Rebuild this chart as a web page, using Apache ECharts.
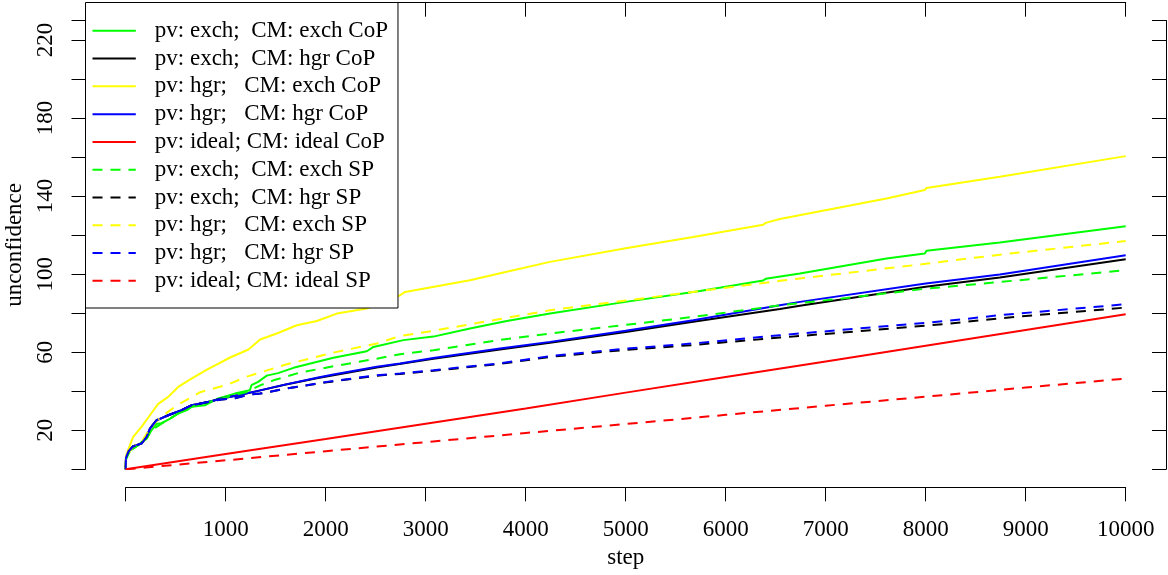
<!DOCTYPE html>
<html>
<head>
<meta charset="utf-8">
<script src="https://cdn.jsdelivr.net/npm/echarts@6/dist/echarts.min.js"></script>
<style>
  html, body { margin: 0; padding: 0; background: #ffffff; }
  #chart { width: 1168px; height: 575px; }
</style>
</head>
<body>
<div id="chart"></div>
<script>
// Unconfidence over simulation steps: [step, unconfidence] pairs per run.
const exchExchCoP = [[0,0],[3,5],[45,9.7],[125,12.3],[178,14.9],[208,15.7],[258,20],[312,23.4],[358,23.6],[445,26],[525,28.6],[612,30.3],[658,32],[791,32.8],[925,36.3],[1091,38.8],[1241,40.5],[1258,43.1],[1324,44.8],[1411,48],[1524,49.3],[1678,52],[2077,57.2],[2411,60.5],[2477,62.7],[2777,66.2],[3077,68],[3443,72.2],[3810,76],[4243,79.8],[5000,85.8],[5743,91.4],[6375,96.8],[6400,97.6],[6742,100.3],[7608,108],[7624,109],[7991,110.6],[8008,112],[8741,116.2],[10000,124.5]];
const exchHgrCoP = [[0,0],[3,6],[25,8.9],[75,11.8],[158,13.2],[208,16.6],[242,20.9],[308,25.1],[425,27.7],[558,30.3],[658,32.8],[825,34.5],[958,36.3],[1124,37.9],[1324,40.2],[1591,43.3],[1924,46.8],[2511,52.2],[3077,56.6],[3743,61.4],[4243,64.8],[5000,70.4],[5675,75.6],[6542,82.2],[6742,83.8],[8000,93.6],[8741,98.3],[10000,107.7]];
const hgrExchCoP = [[0,0],[3,7],[62,14.9],[75,16.6],[158,21.7],[242,27.7],[325,33.5],[425,37.1],[525,42.2],[658,46.5],[808,51],[1044,57.3],[1228,61.4],[1344,66.5],[1511,69.6],[1711,73.8],[1911,76],[2111,79.8],[2411,82.4],[2744,89.2],[2794,90.9],[3443,96.9],[3810,101.2],[4243,106.3],[5000,113.3],[5675,119.1],[6375,125.3],[6400,126.3],[6542,128.3],[7608,138.8],[7624,139.8],[7991,143.1],[8008,144.2],[8741,149.9],[10000,160.5]];
const hgrHgrCoP = [[0,0],[3,6],[25,8.9],[75,11.8],[158,13.2],[208,16.6],[242,20.9],[308,25.1],[425,27.7],[558,30.3],[658,32.8],[825,34.5],[958,36.3],[1124,37.9],[1324,40.2],[1591,43.4],[1924,47],[2077,48.6],[2511,52.5],[2744,54.2],[3077,57],[3743,61.9],[4243,65.3],[5000,71],[5675,76.4],[6542,84.1],[6742,85.8],[8000,95.2],[8741,99.8],[10000,109.7]];
const idealIdealCoP = [[0,0],[1000,7.8],[2000,15.5],[3000,23.3],[4000,31.2],[5000,39.3],[6000,47.3],[7000,55.3],[8000,63.3],[9000,71.4],[10000,79.5]];
const exchExchSP = [[0,0],[3,5],[45,9.7],[125,12.3],[208,15.7],[258,20],[358,23.4],[525,28.6],[658,32],[925,35.8],[1091,38],[1211,39.6],[1344,43],[1477,45.6],[1744,49.6],[2077,52.8],[2511,56.7],[2744,59],[3077,61],[3743,66.3],[4243,69.6],[5000,74],[5675,78.1],[6542,84],[7208,87.8],[8008,92.6],[8741,96],[10000,102]];
const exchHgrSP = [[0,0],[3,6],[25,8.9],[75,11.8],[158,13.2],[208,16.6],[242,20.9],[308,25.1],[425,27.7],[558,30.3],[658,32.8],[825,34.5],[958,35.8],[1078,36.3],[1244,38.3],[1344,38.8],[1611,41.4],[2011,44.6],[2511,48],[2744,48.9],[3077,50.5],[3743,54],[4243,57.6],[5000,61.2],[5675,63.7],[6542,67.5],[6742,68.3],[8208,74.5],[8741,77.4],[10000,82.9]];
const hgrExchSP = [[0,0],[3,6],[75,11.8],[158,14],[242,21],[345,26.5],[512,32.8],[745,39.5],[1024,43.5],[1211,47.5],[1611,53.8],[2077,59.8],[2511,64.5],[2744,68.3],[3077,71],[3743,77],[4243,81.5],[5000,86.5],[5675,90.9],[6542,96.6],[6742,97.8],[8000,105.3],[8741,110],[10000,117]];
const hgrHgrSP = [[0,0],[3,6],[25,8.9],[75,11.8],[158,13.2],[208,16.6],[242,20.9],[308,25.1],[425,27.7],[558,30.3],[658,32.8],[825,34.5],[958,35.8],[1078,36.3],[1244,38.3],[1344,38.8],[1611,41.4],[2011,44.8],[2511,48.2],[2744,49.1],[3077,50.8],[3743,54.3],[4243,58],[5000,61.8],[5675,64.5],[6542,68.7],[6742,69.6],[8208,76],[8741,79],[10000,84.6]];
const idealIdealSP = [[0,0],[1000,4.6],[2000,9.3],[3000,13.9],[4000,18.6],[5000,23.2],[6000,27.9],[7000,32.6],[8000,37.2],[9000,41.9],[10000,46.5]];

const seriesNames = [
  'pv: exch;  CM: exch CoP',
  'pv: exch;  CM: hgr CoP',
  'pv: hgr;   CM: exch CoP',
  'pv: hgr;   CM: hgr CoP',
  'pv: ideal; CM: ideal CoP',
  'pv: exch;  CM: exch SP',
  'pv: exch;  CM: hgr SP',
  'pv: hgr;   CM: exch SP',
  'pv: hgr;   CM: hgr SP',
  'pv: ideal; CM: ideal SP'
];
const seriesData = [exchExchCoP, exchHgrCoP, hgrExchCoP, hgrHgrCoP, idealIdealCoP,
                    exchExchSP, exchHgrSP, hgrExchSP, hgrHgrSP, idealIdealSP];
const seriesColors = ['#00ff00', '#000000', '#ffff00', '#0000ff', '#ff0000',
                      '#00ff00', '#000000', '#ffff00', '#0000ff', '#ff0000'];
const seriesDashed = [false, false, false, false, false, true, true, true, true, true];

// Axis ticks and which of them carry a label
const xTickLabels = [1000, 2000, 3000, 4000, 5000, 6000, 7000, 8000, 9000, 10000];
const yTickLabels = [20, 60, 100, 140, 180, 220];

const FONT = 'Liberation Serif';
const FONT_SIZE = 23;
const black = '#000000';

const chart = echarts.init(document.getElementById('chart'), null, { renderer: 'canvas' });

const axisLineStyle = { show: true, onZero: false, lineStyle: { color: black, width: 1 } };

const option = {
  animation: false,
  backgroundColor: '#ffffff',
  grid: { left: 125.7, right: 42.3, top: 20.5, bottom: 105.7, outerBoundsMode: 'none', containLabel: false },
  xAxis: [
    {
      type: 'value', position: 'bottom', offset: 18,
      min: 0, max: 10000, interval: 1000,
      name: 'step', nameLocation: 'middle', nameGap: 53,
      nameTextStyle: { fontFamily: FONT, fontSize: FONT_SIZE, color: black },
      axisLine: axisLineStyle,
      axisTick: { show: true, inside: false, length: 14, lineStyle: { color: black, width: 1 } },
      axisLabel: {
        show: true, margin: 31, fontFamily: FONT, fontSize: FONT_SIZE, color: black,
        formatter: v => (xTickLabels.indexOf(v) >= 0 ? String(v) : '')
      },
      splitLine: { show: false }
    },
    {
      type: 'value', position: 'top', offset: 17.8,
      min: 0, max: 10000, interval: 1000,
      axisLine: axisLineStyle,
      axisTick: { show: true, inside: true, length: 14, lineStyle: { color: black, width: 1 } },
      axisLabel: { show: false },
      splitLine: { show: false }
    }
  ],
  yAxis: [
    {
      type: 'value', position: 'left', offset: 40.2,
      min: 0, max: 230, interval: 20,
      name: 'unconfidence', nameLocation: 'middle', nameRotate: 90, nameGap: 53.5,
      nameTextStyle: { fontFamily: FONT, fontSize: FONT_SIZE, color: black },
      axisLine: axisLineStyle,
      axisTick: { show: true, inside: false, length: 14, lineStyle: { color: black, width: 1 } },
      axisLabel: {
        show: true, rotate: 90, margin: 28.5, fontFamily: FONT, fontSize: FONT_SIZE, color: black,
        showMinLabel: true, showMaxLabel: true,
        formatter: v => (yTickLabels.indexOf(v) >= 0 ? String(v) : '')
      },
      splitLine: { show: false }
    },
    {
      type: 'value', position: 'right', offset: 40.3,
      min: 0, max: 230, interval: 20,
      axisLine: axisLineStyle,
      axisTick: { show: true, inside: true, length: 14, lineStyle: { color: black, width: 1 } },
      axisLabel: { show: false },
      splitLine: { show: false }
    }
  ],
  legend: {
    show: true,
    orient: 'vertical',
    left: 85.5,
    top: 2.5,
    itemWidth: 43.3,
    itemHeight: 27.78,
    itemGap: 0,
    padding: [14.4, 10, 13.3, 6],
    backgroundColor: '#ffffff',
    borderColor: black,
    borderWidth: 1,
    borderRadius: 0,
    selectedMode: false,
    itemStyle: { opacity: 0 },
    textStyle: { fontFamily: FONT, fontSize: FONT_SIZE, lineHeight: 27.78, color: black, padding: [0, 0, 0, 14] },
    data: seriesNames
  },
  series: seriesNames.map((name, i) => ({
    name: name,
    type: 'line',
    xAxisIndex: 0,
    yAxisIndex: 0,
    data: seriesData[i],
    symbol: 'none',
    showSymbol: false,
    smooth: false,
    color: seriesColors[i],
    lineStyle: {
      color: seriesColors[i],
      width: 2,
      type: seriesDashed[i] ? [10, 8] : 'solid'
    },
    emphasis: { disabled: true },
    z: 2 + i * 0.01
  }))
};

chart.setOption(option);
</script>
</body>
</html>
